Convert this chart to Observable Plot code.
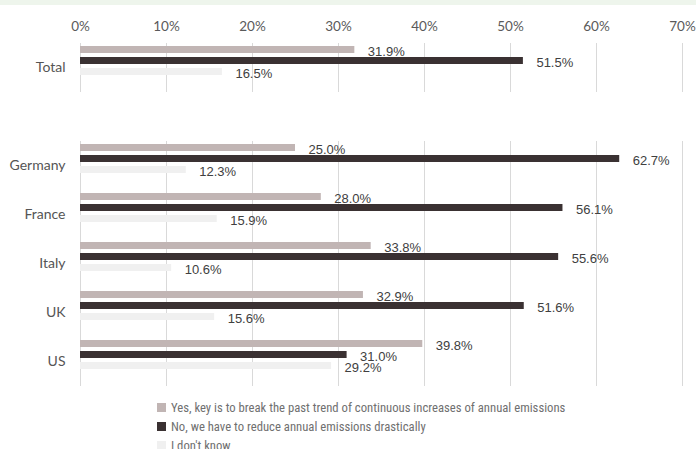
<!DOCTYPE html>
<html>
<head>
<meta charset="utf-8">
<script src="https://cdn.jsdelivr.net/npm/d3@7"></script>
<script src="https://cdn.jsdelivr.net/npm/@observablehq/plot@0.6"></script>
<style>
  html, body { margin: 0; padding: 0; background: #fff; }
  #band { height: 5px; background: #eef5ec; width: 696px; }
  #chart svg { display: block; }
  #legend { padding-top: 8px; padding-left: 157px; font-family: "Liberation Sans Narrow", "Roboto Condensed", "Arial Narrow", sans-serif; font-size: 12.7px; color: #707070; }
  #legend .row { height: 19px; display: flex; align-items: center; white-space: nowrap; }
  #legend .sw { width: 9px; height: 9px; margin-right: 5px; flex: none; }
</style>
</head>
<body>
<div id="band"></div>
<div id="chart"></div>
<div id="legend"></div>
<script>
const categories = ["Total", " ", "Germany", "France", "Italy", "UK", "US"];
const series = [
  "Yes, key is to break the past trend of continuous increases of annual emissions",
  "No, we have to reduce annual emissions drastically",
  "I don't know"
];
const seriesKeys = ["yes", "no", "dk"];
const colors = ["#c1b5b4", "#3a3132", "#f0f0f0"];
const xTicks = [0, 10, 20, 30, 40, 50, 60, 70];
const dataCats = ["Total", "Germany", "France", "Italy", "UK", "US"];
const yesValues = [31.9, 25.0, 28.0, 33.8, 32.9, 39.8];
const noValues  = [51.5, 62.7, 56.1, 55.6, 51.6, 31.0];
const dkValues  = [16.5, 12.3, 15.9, 10.6, 15.6, 29.2];

const valuesBySeries = [yesValues, noValues, dkValues];
const data = [];
dataCats.forEach((c, i) => {
  seriesKeys.forEach((s, j) => {
    data.push({cat: c, series: s, value: valuesBySeries[j][i]});
  });
});

const chart = Plot.plot({
  width: 696,
  height: 385,
  marginLeft: 80,
  marginRight: 14,
  marginTop: 37,
  marginBottom: 3,
  style: {fontFamily: "Lato, sans-serif", fontSize: "13px", color: "#4d4d4d", background: "#fff"},
  x: {domain: [0, 70], axis: null},
  y: {domain: seriesKeys, axis: null, paddingInner: 0.333, paddingOuter: 0.71, align: 0.15},
  fy: {domain: categories, padding: 0, axis: null},
  color: {domain: seriesKeys, range: colors},
  marks: [
    Plot.gridX({ticks: xTicks, stroke: "#d9d9d9", strokeOpacity: 1, strokeWidth: 1}),
    Plot.axisX({ticks: xTicks, anchor: "top", facetAnchor: "top", tickSize: 0, tickPadding: 13, tickFormat: d => d + "%", fill: "#5a5a5a", fontSize: 13.5, fontWeight: 400, label: null}),
    Plot.axisFy({anchor: "left", tickSize: 0, tickPadding: 15, fill: "#555555", fontSize: 14, fontWeight: 400, label: null}),
    Plot.barX(data, {x: "value", y: "series", fy: "cat", fill: "series"}),
    Plot.text(data, {x: "value", y: "series", fy: "cat", text: d => d.value.toFixed(1) + "%",
      textAnchor: "start", dx: 13, dy: 1.5, fill: "#404040",
      fontFamily: "Liberation Sans, Arial, sans-serif", fontSize: 13})
  ]
});
document.getElementById("chart").appendChild(chart);

const legend = document.getElementById("legend");
series.forEach((name, i) => {
  const row = document.createElement("div");
  row.className = "row";
  const sw = document.createElement("span");
  sw.className = "sw";
  sw.style.background = colors[i];
  const t = document.createElement("span");
  t.textContent = name;
  row.appendChild(sw);
  row.appendChild(t);
  legend.appendChild(row);
});
</script>
</body>
</html>
